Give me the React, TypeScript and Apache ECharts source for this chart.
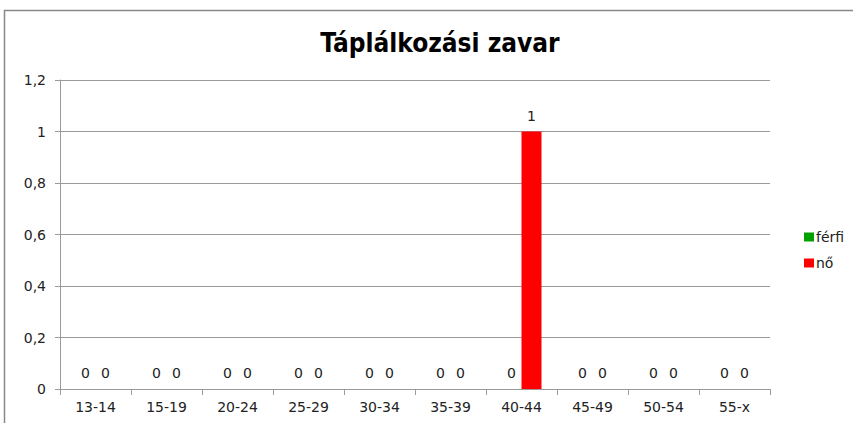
import React, { useEffect, useRef } from "react";
import * as echarts from "echarts";

const categories = ["13-14", "15-19", "20-24", "25-29", "30-34", "35-39", "40-44", "45-49", "50-54", "55-x"];
const ferfi = [0, 0, 0, 0, 0, 0, 0, 0, 0, 0];
const no = [0, 0, 0, 0, 0, 0, 1, 0, 0, 0];
const seriesNames = ["férfi", "nő"];
const title = "Táplálkozási zavar";

const FONT = "DejaVu Sans";
const LINE = "#9a9a9a";
const TEXT = "#222";

export default function App() {
  const ref = useRef<HTMLDivElement>(null);
  useEffect(() => {
    document.body.style.margin = "0";
    const chart = echarts.init(ref.current!, null, { renderer: "svg" });
    const labelStyle = {
      show: true,
      position: "top" as const,
      distance: 9,
      color: TEXT,
      fontSize: 14,
      fontFamily: FONT,
    };
    chart.setOption({
      animation: false,
      backgroundColor: "#fff",
      title: {
        text: title,
        left: 435,
        textAlign: "center",
        top: 25,
        textStyle: {
          fontSize: 26,
          fontWeight: "bold",
          color: "#000",
          fontFamily: "DejaVu Sans Condensed, DejaVu Sans",
        },
      },
      graphic: [
        {
          type: "rect",
          shape: { x: 4.5, y: 10.5, width: 900, height: 500 },
          style: { fill: "none", stroke: "#888", lineWidth: 1.5 },
          silent: true,
        },
      ],
      legend: {
        orient: "vertical",
        left: 799,
        top: 225,
        itemWidth: 10,
        itemHeight: 9,
        itemGap: 12,
        textStyle: { fontSize: 14, color: TEXT, fontFamily: FONT, padding: [0, 0, 0, -3] },
        data: seriesNames.map((n) => ({ name: n, icon: "rect" })),
      },
      grid: { left: 60, right: 83, top: 80, bottom: 34 },
      xAxis: {
        type: "category",
        data: categories,
        axisLine: { lineStyle: { color: LINE, width: 1 } },
        axisTick: { show: true, length: 6, lineStyle: { color: LINE } },
        axisLabel: { color: TEXT, fontSize: 14, margin: 11, fontFamily: FONT },
      },
      yAxis: {
        type: "value",
        min: 0,
        max: 1.2,
        interval: 0.2,
        axisLine: { show: true, lineStyle: { color: LINE } },
        axisTick: { show: true, length: 5, lineStyle: { color: LINE } },
        splitLine: { lineStyle: { color: LINE, width: 1 } },
        axisLabel: {
          color: TEXT,
          fontSize: 14,
          margin: 14,
          fontFamily: FONT,
          formatter: (v: number) => String(Math.round(v * 10) / 10).replace(".", ","),
        },
      },
      series: [
        {
          name: seriesNames[0],
          type: "bar",
          data: ferfi,
          itemStyle: { color: "#00a000" },
          barWidth: 20,
          barGap: "0%",
          label: labelStyle,
        },
        {
          name: seriesNames[1],
          type: "bar",
          data: no,
          itemStyle: { color: "#ff0000" },
          barWidth: 20,
          barGap: "0%",
          label: labelStyle,
        },
      ],
    });
    return () => chart.dispose();
  }, []);
  return <div ref={ref} style={{ position: "absolute", left: 0, top: 0, width: 853, height: 423 }} />;
}
